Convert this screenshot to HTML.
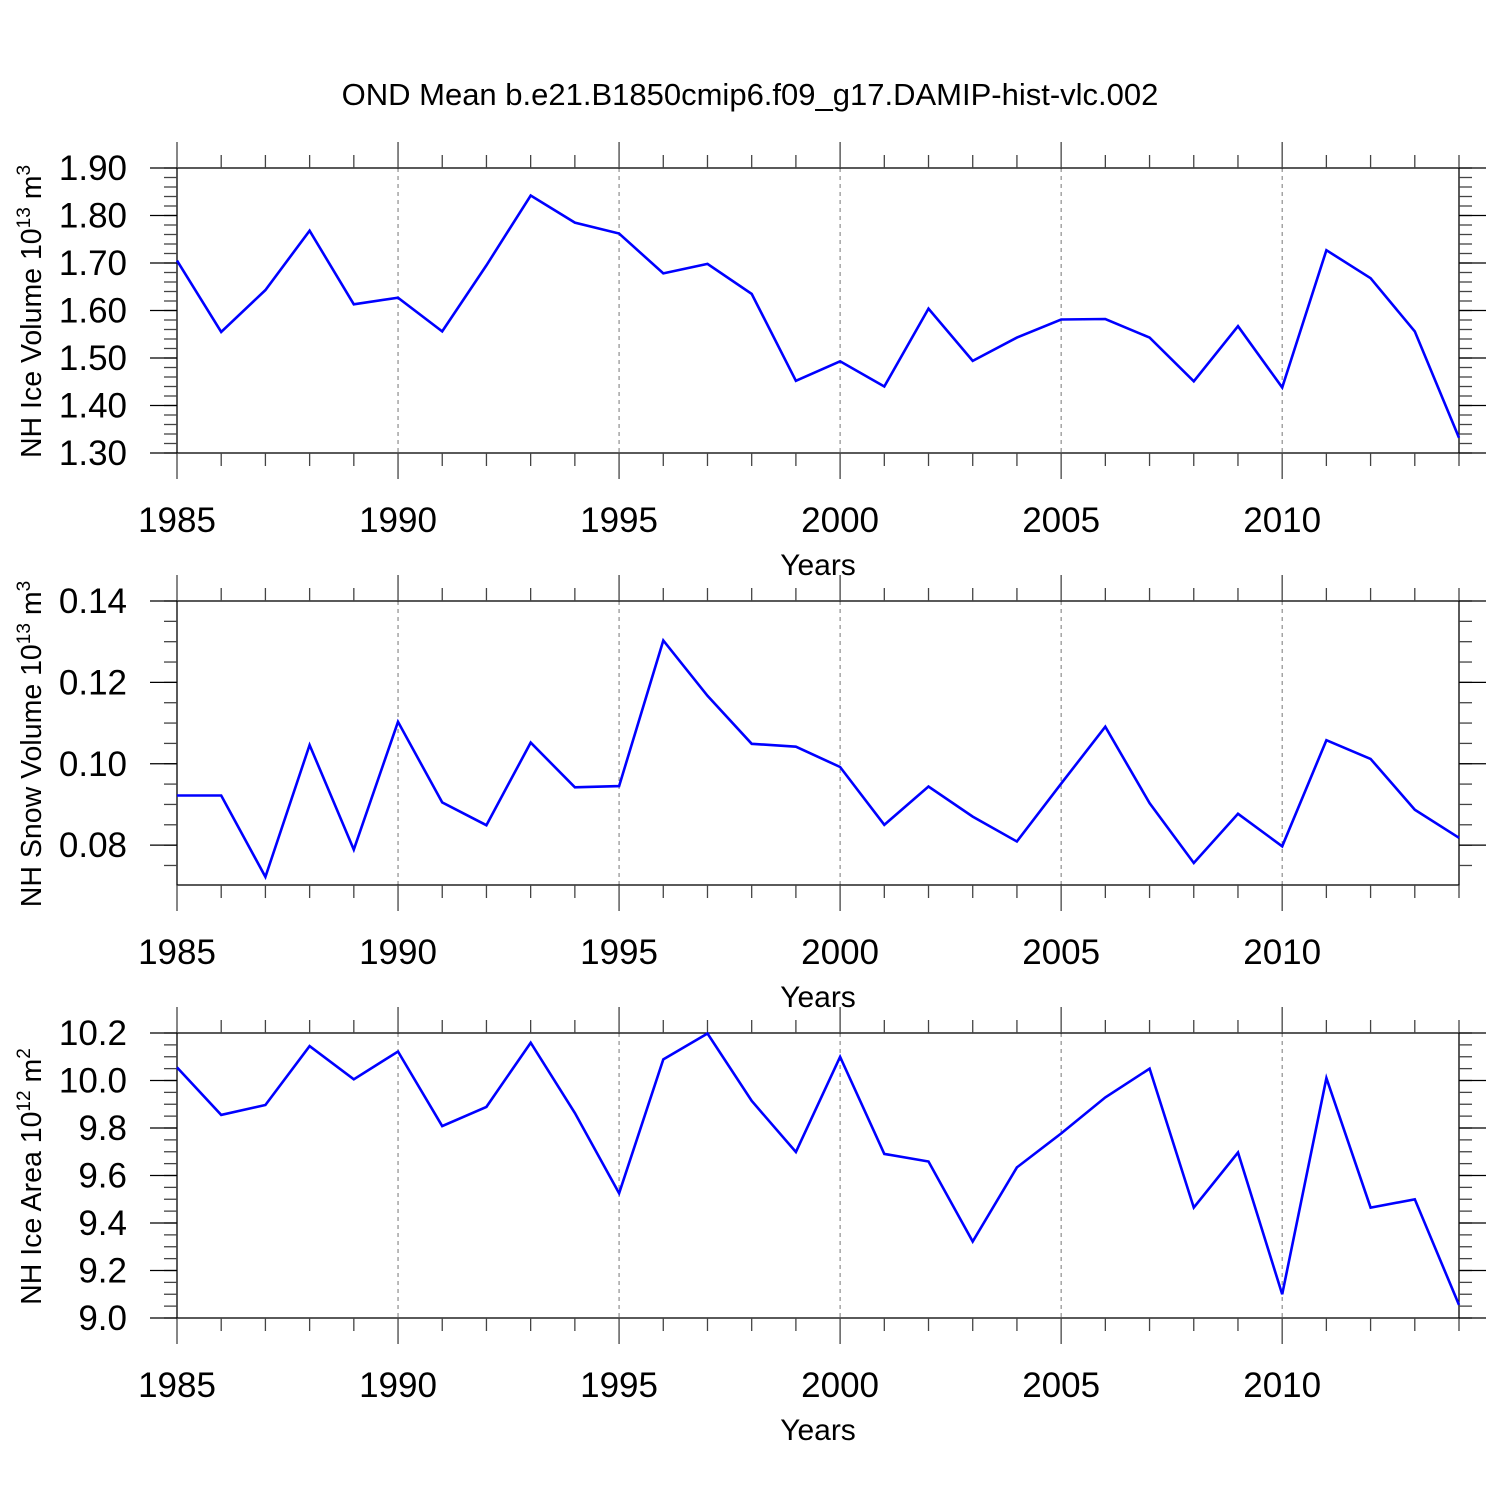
<!DOCTYPE html>
<html><head><meta charset="utf-8"><style>
html,body{margin:0;padding:0;background:#fff;}
svg{display:block;font-family:"Liberation Sans",Arial,sans-serif;}
</style></head><body>
<svg id="chart" width="1500" height="1500" viewBox="0 0 1500 1500" xmlns="http://www.w3.org/2000/svg">
<text x="750" y="105" font-size="31" text-anchor="middle">OND Mean b.e21.B1850cmip6.f09_g17.DAMIP-hist-vlc.002</text>
</svg>
<script>
const years = [];
for (let y = 1985; y <= 2014; y++) years.push(y);
const iceVolume = [1.705,1.555,1.643,1.768,1.613,1.627,1.556,1.695,1.842,1.785,1.762,1.678,1.698,1.635,1.452,1.493,1.440,1.604,1.494,1.543,1.581,1.582,1.543,1.451,1.567,1.438,1.727,1.668,1.556,1.332];
const snowVolume = [0.0922,0.0922,0.0722,0.1046,0.0789,0.1103,0.0905,0.0849,0.1052,0.0942,0.0945,0.1303,0.1167,0.1049,0.1042,0.0992,0.0850,0.0944,0.0870,0.0809,0.0951,0.1091,0.0903,0.0756,0.0877,0.0797,0.1058,0.1012,0.0887,0.0818];
const iceArea = [10.055,9.855,9.897,10.145,10.005,10.122,9.808,9.889,10.159,9.863,9.525,10.089,10.198,9.914,9.699,10.100,9.691,9.659,9.322,9.634,9.777,9.929,10.050,9.465,9.697,9.100,10.010,9.465,9.500,9.055];
const xTickLabels = [1985,1990,1995,2000,2005,2010];
const iceVolumeTicks = [1.30,1.40,1.50,1.60,1.70,1.80,1.90];
const snowVolumeTicks = [0.08,0.10,0.12,0.14];
const iceAreaTicks = [9.0,9.2,9.4,9.6,9.8,10.0,10.2];

const NS = "http://www.w3.org/2000/svg";
const svg = document.getElementById('chart');
const X0 = 177, X1 = 1459;
function xs(v){ return X0 + (v - 1985) / (2014 - 1985) * (X1 - X0); }
function mk(tag, attrs, parent){
  const e = document.createElementNS(NS, tag);
  for (const k in attrs) e.setAttribute(k, attrs[k]);
  (parent || svg).appendChild(e);
  return e;
}

const panels = [
  {key:'ice-volume', top:168, bottom:453, ymin:1.30, ymax:1.90, data:iceVolume, ticks:iceVolumeTicks, dec:2, minor:0.02, label:'NH Ice Volume 10', sup:'13', unit:' m', sup2:'3'},
  {key:'snow-volume', top:601, bottom:885, ymin:0.0702, ymax:0.14, data:snowVolume, ticks:snowVolumeTicks, dec:2, minor:0.005, label:'NH Snow Volume 10', sup:'13', unit:' m', sup2:'3'},
  {key:'ice-area', top:1033, bottom:1318, ymin:9.0, ymax:10.2, data:iceArea, ticks:iceAreaTicks, dec:1, minor:0.05, label:'NH Ice Area 10', sup:'12', unit:' m', sup2:'2'}
];

panels.forEach(p => {
  const g = mk('g', {});
  
  
  const ys = v => p.bottom - (v - p.ymin) / (p.ymax - p.ymin) * (p.bottom - p.top);
  xTickLabels.forEach(yr => {
    if (yr === 1985) return;
    const l = mk('line', {x1:xs(yr), x2:xs(yr), y1:p.top, y2:p.bottom, stroke:'#777', 'stroke-width':1, 'stroke-dasharray':'4,4'}, g);
    
    
  });
  const box = mk('rect', {x:X0, y:p.top, width:X1-X0, height:p.bottom-p.top, fill:'none', stroke:'#000', 'stroke-width':1.3}, g);
  
  
  years.forEach(yr => {
    const major = yr % 5 === 0;
    const len = major ? 26 : 13;
    mk('line', {x1:xs(yr), x2:xs(yr), y1:p.top, y2:p.top-len, stroke:'#444', 'stroke-width':1.3}, g);
    mk('line', {x1:xs(yr), x2:xs(yr), y1:p.bottom, y2:p.bottom+len, stroke:'#444', 'stroke-width':1.3}, g);
  });
  xTickLabels.forEach(yr => {
    const t = mk('text', {x:xs(yr), y:p.bottom+79, 'font-size':35, 'text-anchor':'middle'}, g);
    t.textContent = yr;
    
    
  });
  const xt = mk('text', {x:818, y:p.bottom+122, 'font-size':30, 'text-anchor':'middle'}, g);
  xt.textContent = 'Years';
  
  
  const n = Math.round((p.ymax - p.ticks[0]) / p.minor);
  for (let i = -20; i <= n; i++) {
    const v = p.ticks[0] + i * p.minor;
    if (v < p.ymin - 1e-9 || v > p.ymax + 1e-9) continue;
    const y = ys(v);
    mk('line', {x1:X0, x2:X0-13, y1:y, y2:y, stroke:'#444', 'stroke-width':1.3}, g);
    mk('line', {x1:X1, x2:X1+13, y1:y, y2:y, stroke:'#444', 'stroke-width':1.3}, g);
  }
  p.ticks.forEach(v => {
    const y = ys(v);
    mk('line', {x1:X0, x2:X0-27, y1:y, y2:y, stroke:'#000', 'stroke-width':1.3}, g);
    mk('line', {x1:X1, x2:X1+27, y1:y, y2:y, stroke:'#000', 'stroke-width':1.3}, g);
    const t = mk('text', {x:127, y:y+12, 'font-size':35, 'text-anchor':'end'}, g);
    t.textContent = v.toFixed(p.dec);
    
    
  });
  const cy = (p.top + p.bottom) / 2 + 1;
  const yt = mk('text', {x:0, y:0, 'font-size':28.5, 'text-anchor':'middle', transform:'translate(41,' + cy + ') rotate(-90)'}, g);
  
  
  yt.appendChild(document.createTextNode(p.label));
  const s1 = mk('tspan', {dy:-11, 'font-size':19}, yt); s1.textContent = p.sup;
  const s2 = mk('tspan', {dy:11}, yt); s2.textContent = p.unit;
  const s3 = mk('tspan', {dy:-11, 'font-size':19}, yt); s3.textContent = p.sup2;
  const pts = p.data.map((v, i) => xs(years[i]).toFixed(1) + ',' + ys(v).toFixed(1)).join(' ');
  const pl = mk('polyline', {points:pts, fill:'none', stroke:'#0000ff', 'stroke-width':2.6, 'stroke-linejoin':'miter'}, g);
  
  
});
</script>
</body></html>
